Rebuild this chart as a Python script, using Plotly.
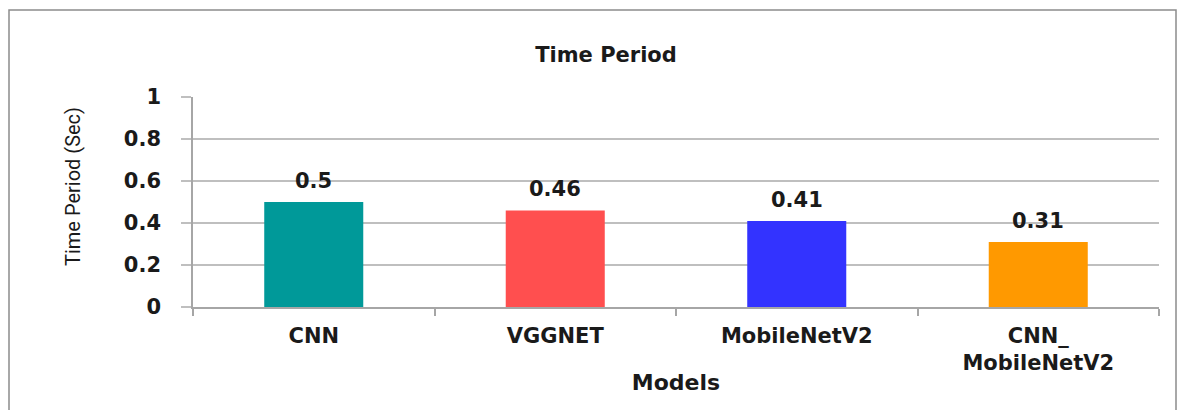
import plotly.graph_objects as go

models = ["CNN", "VGGNET", "MobileNetV2", "CNN_<br>MobileNetV2"]
times = [0.5, 0.46, 0.41, 0.31]
labels = ["0.5", "0.46", "0.41", "0.31"]
colors = ["#009999", "#FF4F4F", "#3333FF", "#FF9900"]
y_ticks = [0, 0.2, 0.4, 0.6, 0.8, 1]
y_ticktext = ["0", "0.2", "0.4", "0.6", "0.8", "1"]

W, H = 1188, 410
L, R, T, B = 193, 29, 97, 103
pw, ph = W - L - R, H - T - B

bold = "'DejaVu Sans', sans-serif"
txt = "#1a1a1a"

fig = go.Figure(go.Bar(
    x=models, y=times, marker=dict(color=colors, line=dict(width=0)),
    width=0.41, hoverinfo="skip"))

for m, v, t in zip(models, times, labels):
    fig.add_annotation(x=m, y=v, text="<b>%s</b>" % t, showarrow=False,
                       yanchor="bottom", yshift=7,
                       font=dict(family=bold, size=21, color=txt))

# y-axis title
fig.add_annotation(xref="paper", yref="paper", x=(73 - L) / pw, y=(H - B - 187) / ph,
                   text="Time Period (Sec)", textangle=-90, showarrow=False,
                   xanchor="center", yanchor="middle",
                   font=dict(family="Roboto, sans-serif", size=20, color=txt))

# outer border
fig.add_shape(type="rect", xref="paper", yref="paper",
              x0=(9 - L) / pw, x1=(1176 - L) / pw,
              y0=(H - B - 440) / ph, y1=(H - B - 10) / ph,
              line=dict(color="#8c8c8c", width=1.5), layer="below")

fig.update_layout(
    width=W, height=H,
    margin=dict(l=L, r=R, t=T, b=B),
    paper_bgcolor="white", plot_bgcolor="white",
    showlegend=False,
    title=dict(text="<b>Time Period</b>", x=606 / W, xanchor="center",
               y=1 - 55 / H, yanchor="middle",
               font=dict(family=bold, size=21, color=txt)),
    xaxis=dict(type="category", showgrid=False, showline=True,
               linecolor="#a6a6a6", linewidth=1.5,
               ticks="outside", tickson="boundaries", ticklen=7,
               tickcolor="#a6a6a6", tickwidth=1.5, ticklabelstandoff=9,
               tickvals=models, ticktext=["<b>%s</b>" % m for m in models],
               tickfont=dict(family=bold, size=21, color=txt),
               title=dict(text="<b>Models</b>", standoff=0,
                          font=dict(family=bold, size=22, color=txt))),
    yaxis=dict(range=[0, 1], tickvals=y_ticks, ticktext=["<b>%s</b>" % t for t in y_ticktext],
               showgrid=True, gridcolor="#bfbfbf", gridwidth=1.5,
               zeroline=False, showline=True, linecolor="#a6a6a6", linewidth=1.5,
               ticks="outside", ticklen=10, tickcolor="#bfbfbf", tickwidth=1.5,
               ticklabelstandoff=16,
               tickfont=dict(family=bold, size=21, color=txt)),
)

fig.write_html("out.html", config={"displayModeBar": False},
               post_script="document.body.style.margin='0';")
